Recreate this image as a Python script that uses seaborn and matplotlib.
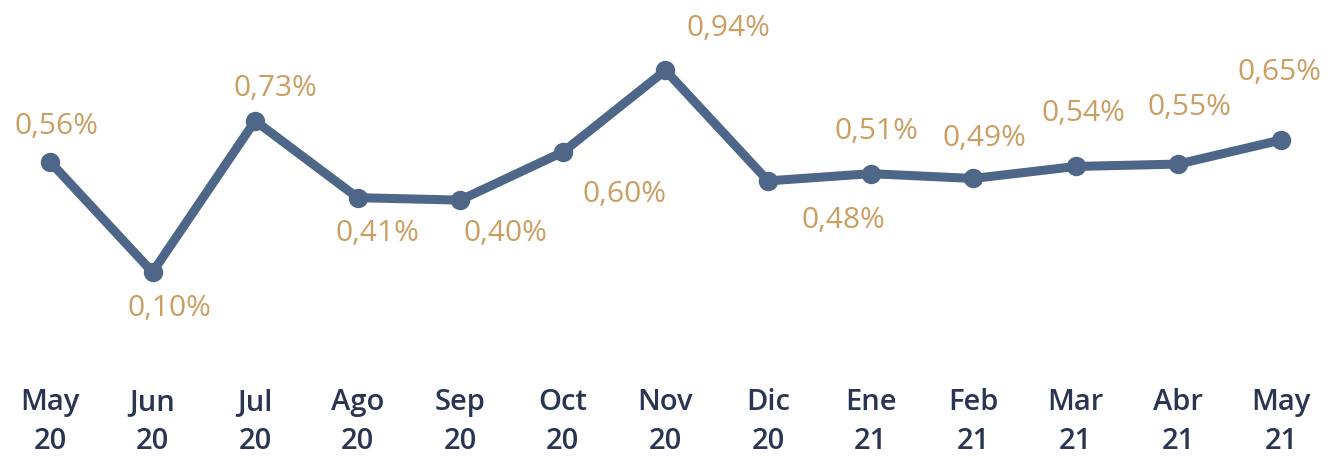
import matplotlib
matplotlib.use("Agg")
import matplotlib.pyplot as plt
import seaborn as sns
import pandas as pd

months = ["May\n20", "Jun\n20", "Jul\n20", "Ago\n20", "Sep\n20", "Oct\n20", "Nov\n20",
          "Dic\n20", "Ene\n21", "Feb\n21", "Mar\n21", "Abr\n21", "May\n21"]
values = [0.56, 0.10, 0.73, 0.41, 0.40, 0.60, 0.94, 0.48, 0.51, 0.49, 0.54, 0.55, 0.65]
labels = ["0,56%", "0,10%", "0,73%", "0,41%", "0,40%", "0,60%", "0,94%",
          "0,48%", "0,51%", "0,49%", "0,54%", "0,55%", "0,65%"]

# label offsets in pixels (dx, dy downward)
offsets_px = [(7, -35), (17, 36), (20, -32), (20, 36), (45, 33), (62, 42), (63, -42),
              (75, 40), (6, -42), (11, -40), (8, -53), (11, -57), (-1, -68)]

sns.set_theme(style="white")
plt.rcParams['font.family'] = ['Open Sans', 'DejaVu Sans']

LINE = "#4E6688"
GOLD = "#CB9E62"
NAVY = "#2A3553"

dpi = 100
fig = plt.figure(figsize=(13.27, 4.57), dpi=dpi)
ax = fig.add_axes([0, 0.19, 1, 0.81])

df = pd.DataFrame({"x": range(len(values)), "y": values})
sns.lineplot(data=df, x="x", y="y", ax=ax, color=LINE, linewidth=6.5,
             marker="o", markersize=14, markeredgewidth=0, solid_capstyle="round")

ax.set_xlim(-0.487, 12.449)
ax.set_ylim(-0.308, 1.233)

for i, (v, lab) in enumerate(zip(values, labels)):
    dx, dy = offsets_px[i]
    ax.annotate(lab, (i, v), xytext=(dx * 0.72, -dy * 0.72), textcoords="offset points",
                ha="center", va="center", color=GOLD, fontsize=21.5)

ax.set_xticks(range(len(months)))
ax.set_xticklabels(months, fontsize=21, color=NAVY, fontweight="semibold", linespacing=1.45)
ax.tick_params(axis="x", length=0, pad=13)
ax.set_yticks([])
ax.set_xlabel("")
ax.set_ylabel("")
for s in ax.spines.values():
    s.set_visible(False)

fig.savefig("out.png", dpi=dpi)
